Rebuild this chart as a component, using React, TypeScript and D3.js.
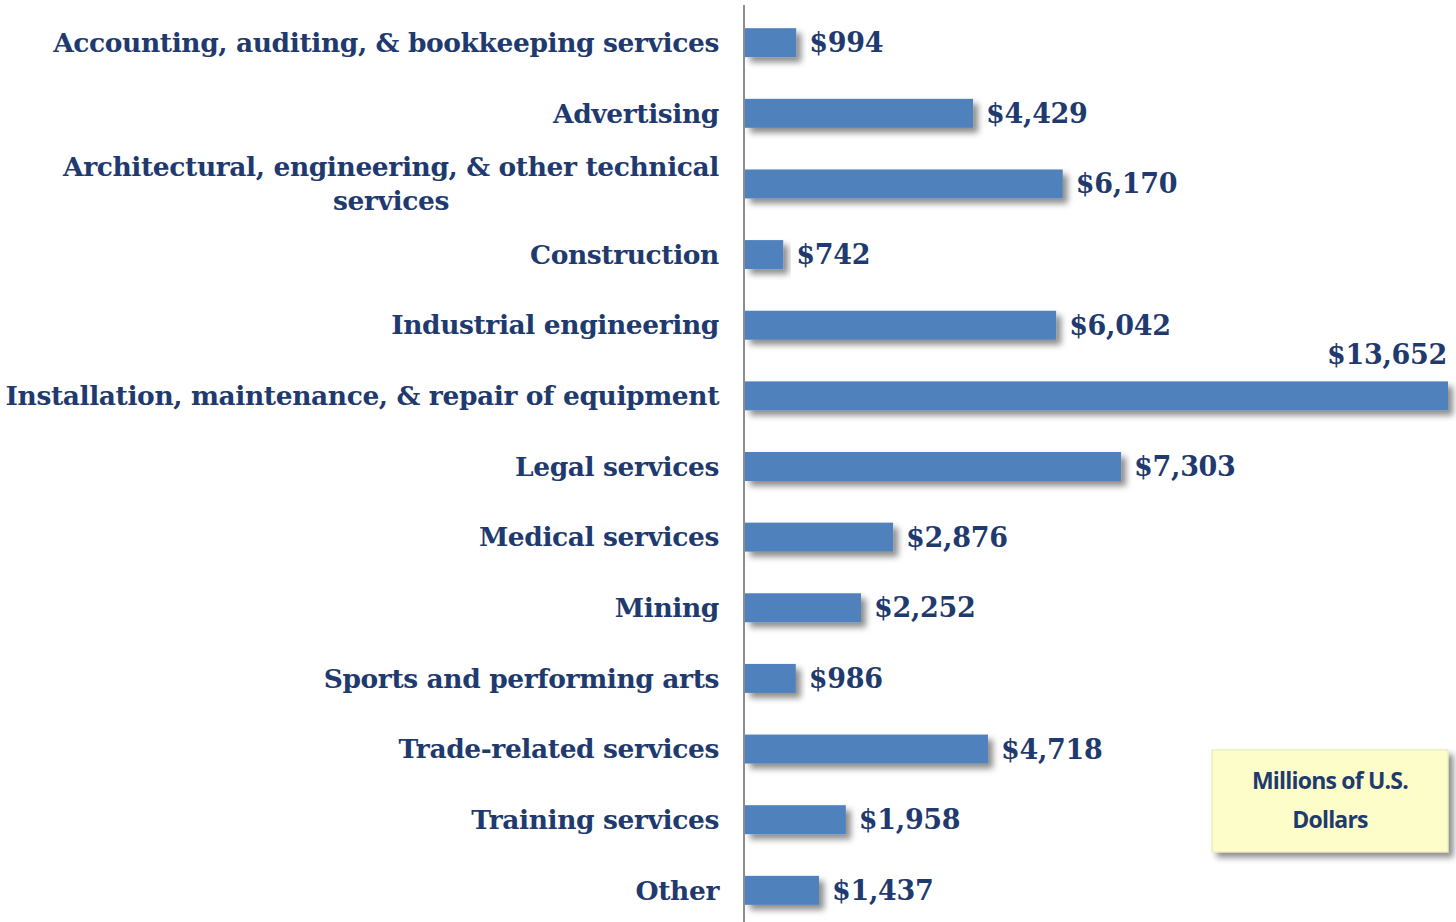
import { useRef, useEffect } from "react";
import * as d3 from "d3";

const categories = [
  ["Accounting, auditing, & bookkeeping services"],
  ["Advertising"],
  ["Architectural, engineering, & other technical", "services"],
  ["Construction"],
  ["Industrial engineering"],
  ["Installation, maintenance, & repair of equipment"],
  ["Legal services"],
  ["Medical services"],
  ["Mining"],
  ["Sports and performing arts"],
  ["Trade-related services"],
  ["Training services"],
  ["Other"],
];
const values = [994, 4429, 6170, 742, 6042, 13652, 7303, 2876, 2252, 986, 4718, 1958, 1437];
const noteLines = ["Millions of U.S.", "Dollars"];

const W = 1456;
const H = 922;
const textColor = "#1f3a6e";
const barColor = "#4f81bd";
const serif = "'DejaVu Serif', serif";

const App = () => {
  const ref = useRef<SVGSVGElement>(null);

  useEffect(() => {
    const svg = d3.select(ref.current);
    svg.selectAll("*").remove();

    const defs = svg.append("defs");
    const f = defs.append("filter").attr("id", "shadow").attr("x", "-10%").attr("y", "-30%").attr("width", "130%").attr("height", "190%");
    f.append("feDropShadow").attr("dx", 5).attr("dy", 5).attr("stdDeviation", 3).attr("flood-color", "#000").attr("flood-opacity", 0.45);

    const keys = categories.map((_, i) => String(i));
    const y = d3.scaleBand().domain(keys).range([7, 926]).paddingInner(0.59).paddingOuter(0.3);
    const x = d3.scaleLinear().domain([0, 13652]).range([745, 1448]);

    // bars
    svg.append("g")
      .selectAll("rect")
      .data(values)
      .enter()
      .append("rect")
      .attr("x", x(0))
      .attr("y", (_, i) => y(String(i))!)
      .attr("width", d => x(d) - x(0))
      .attr("height", y.bandwidth())
      .attr("fill", barColor)
      .attr("filter", "url(#shadow)");

    // axis line
    svg.append("line")
      .attr("x1", 744).attr("x2", 744)
      .attr("y1", 5).attr("y2", H)
      .attr("stroke", "#8c8c8c").attr("stroke-width", 2);

    // category labels
    const labels = svg.append("g")
      .attr("font-family", serif)
      .attr("font-weight", "bold")
      .attr("font-size", 26.5)
      .attr("fill", textColor);

    categories.forEach((lines, i) => {
      const cy = y(String(i))! + y.bandwidth() / 2;
      if (lines.length === 1) {
        labels.append("text")
          .attr("x", 719).attr("y", cy)
          .attr("dy", "0.35em")
          .attr("text-anchor", "end")
          .attr("letter-spacing", -0.4)
          .text(lines[0]);
      } else {
        const first = labels.append("text")
          .attr("x", 719).attr("y", cy - 17)
          .attr("dy", "0.35em")
          .attr("text-anchor", "end")
          .attr("letter-spacing", -0.4)
          .text(lines[0]);
        const w = (first.node() as SVGTextElement).getComputedTextLength();
        labels.append("text")
          .attr("x", 719 - w / 2).attr("y", cy + 17)
          .attr("dy", "0.35em")
          .attr("text-anchor", "middle")
          .attr("letter-spacing", -0.4)
          .text(lines[1]);
      }
    });

    // value labels
    const fmt = d3.format(",");
    const maxV = d3.max(values)!;
    svg.append("g")
      .attr("font-family", serif)
      .attr("font-weight", "bold")
      .attr("font-size", 27)
      .attr("fill", textColor)
      .selectAll("text")
      .data(values)
      .enter()
      .append("text")
      .attr("x", d => (d === maxV ? x(d) - 1 : x(d) + 13))
      .attr("y", (d, i) => (d === maxV ? y(String(i))! - 27 : y(String(i))! + y.bandwidth() / 2))
      .attr("dy", "0.35em")
      .attr("text-anchor", d => (d === maxV ? "end" : "start"))
      .attr("letter-spacing", -0.3)
      .text(d => "$" + fmt(d));

    // units note
    const note = svg.append("g");
    note.append("rect")
      .attr("x", 1212).attr("y", 750)
      .attr("width", 236).attr("height", 102)
      .attr("fill", "#fdfdc9")
      .attr("stroke", "#e6e6b0")
      .attr("filter", "url(#shadow)");
    note.selectAll("text")
      .data(noteLines)
      .enter()
      .append("text")
      .attr("x", 1330)
      .attr("y", (_, i) => 781 + i * 39)
      .attr("dy", "0.35em")
      .attr("text-anchor", "middle")
      .attr("font-family", "'Open Sans', sans-serif")
      .attr("font-weight", 700)
      .attr("font-size", 23)
      .attr("letter-spacing", -0.8)
      .attr("fill", textColor)
      .text(d => d);
  }, []);

  return (
    <svg
      ref={ref}
      width={W}
      height={H}
      style={{ position: "absolute", left: 0, top: 0, background: "#fff" }}
    />
  );
};

export default App;
